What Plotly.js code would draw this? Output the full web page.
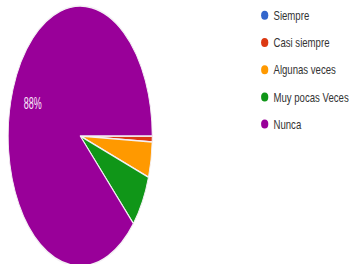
<!DOCTYPE html>
<html>
<head>
<meta charset="utf-8">
<script src="https://cdn.plot.ly/plotly-3.0.1.min.js"></script>
<style>
  html, body { margin: 0; padding: 0; background: #ffffff; }
  #chart { width: 349px; height: 264px; }
</style>
</head>
<body>
<div id="chart"></div>
<script>
// ---- data ----
const categories = ['Siempre', 'Casi siempre', 'Algunas veces', 'Muy pocas Veces', 'Nunca'];
const counts = [0, 1, 6, 9, 120];
const colors = ['#3366cc', '#dc3912', '#ff9900', '#109618', '#990099'];
const showLabel = [false, false, false, false, true];

const pieTrace = {
  type: 'pie',
  labels: categories,
  values: counts,
  sort: false,
  direction: 'clockwise',
  rotation: 90,
  marker: { colors: colors, line: { color: '#f4f0f4', width: 1 } },
  texttemplate: showLabel.map(s => s ? '%{percent:.0%}' : ''),
  textposition: 'inside',
  insidetextorientation: 'horizontal',
  textfont: { family: 'Arial, Liberation Sans, sans-serif', size: 10, color: '#fbe9fa' },
  hoverinfo: 'none',
  showlegend: false,
  domain: { x: [0, 160.4 / 349], y: [0.18, 0.7896] }
};

const legendTraces = categories.map((c, i) => ({
  type: 'scatter',
  mode: 'markers',
  x: [null], y: [null],
  name: c,
  legendgroup: c,
  marker: { symbol: 'circle', size: 9, color: colors[i] },
  hoverinfo: 'none'
}));

const layout = {
  width: 349, height: 264,
  margin: { l: 0, r: 0, t: 0, b: 0 },
  paper_bgcolor: '#ffffff',
  plot_bgcolor: 'rgba(0,0,0,0)',
  xaxis: { visible: false, domain: [0.98, 1] },
  yaxis: { visible: false },
  showlegend: true,
  legend: {
    x: 0.5, xanchor: 'left',
    y: 1, yanchor: 'top',
    traceorder: 'grouped',
    tracegroupgap: 8.2,
    bgcolor: 'rgba(0,0,0,0)',
    font: { family: 'Arial, Liberation Sans, sans-serif', size: 12, color: '#333333' }
  }
};

function adjust(gd) {
  const cx = 80.2, cy = 136, r = 80.2;
  const sx = 72 / r, sy = 130 / r;
  // push the percent label further out along its radius
  const k = 1.41;
  gd.querySelectorAll('.pielayer g.slicetext').forEach(t => {
    if (!t.textContent) return;
    const b = t.getBoundingClientRect();
    const tx = b.left + b.width / 2, ty = b.top + b.height / 2;
    const dx = (k - 1) * (tx - cx), dy = (k - 1) * (ty - cy);
    t.setAttribute('transform', 'translate(' + dx + ',' + dy + ')');
  });
  const pl = gd.querySelector('.pielayer');
  if (pl) pl.setAttribute('transform',
    'translate(' + cx + ',' + cy + ') scale(' + sx + ',' + sy + ') translate(' + (-cx) + ',' + (-cy) + ')');
  gd.querySelectorAll('.legend .legendtext').forEach(t => t.setAttribute('x', 31));
  const lg = gd.querySelector('.legend');
  if (lg) {
    lg.setAttribute('transform', 'translate(0,0) scale(0.8,1)');
    const pt = lg.querySelector('.legendpoints path');
    if (pt) {
      const b = pt.getBoundingClientRect();
      const mx = b.left + b.width / 2, my = b.top + b.height / 2;
      lg.setAttribute('transform', 'translate(' + (264.7 - mx) + ',' + (15.3 - my) + ') scale(0.8,1)');
    }
  }
}

Plotly.newPlot('chart', [pieTrace].concat(legendTraces), layout, { staticPlot: true, displayModeBar: false })
  .then(gd => { adjust(gd); });
</script>
</body>
</html>
